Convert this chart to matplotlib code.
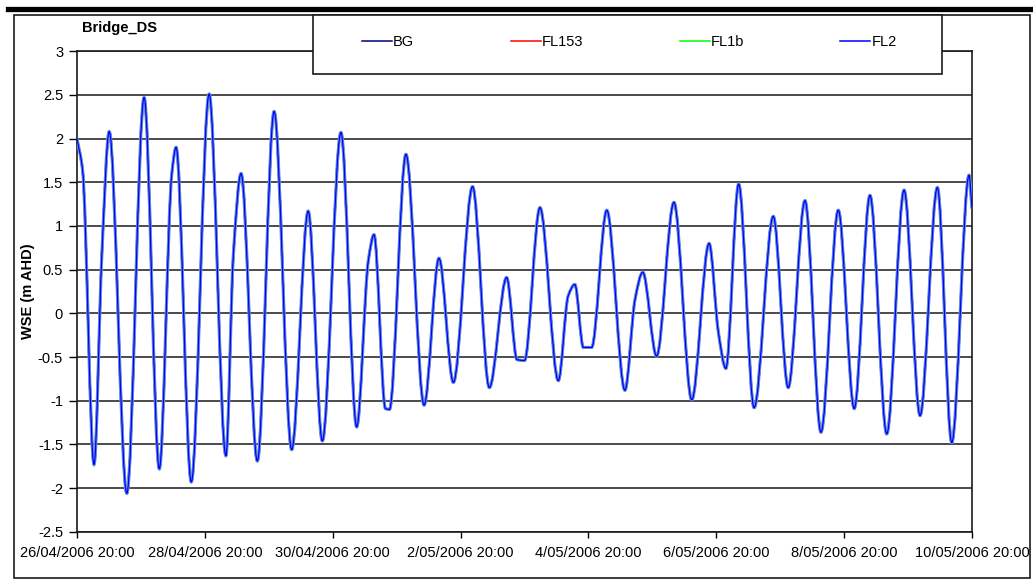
import numpy as np
import pandas as pd
import matplotlib as mpl
mpl.use('Agg')
import matplotlib.pyplot as plt
import matplotlib.dates as mdates
import matplotlib.patheffects as pe
from matplotlib.path import Path
from matplotlib.patches import PathPatch, Rectangle
from matplotlib.lines import Line2D
from matplotlib.ticker import FuncFormatter, MultipleLocator

plt.rcParams['font.family'] = ['Liberation Sans', 'DejaVu Sans']
plt.rcParams['axes.unicode_minus'] = False

# water surface elevation at Bridge_DS, turning points of the tide (hours after start, m AHD)
start = pd.Timestamp('2006-04-26 20:00')
hours = [0.0, 2.1, 6.4, 9.3, 12.1, 18.7, 25.2, 30.9, 35.6, 37.2,
         42.9, 49.6, 55.9, 58.7, 61.6, 67.7, 74.0, 80.6, 86.8, 92.1,
         99.1, 105.0, 109.4, 111.5, 115.8, 117.3, 123.5, 130.3, 135.9, 141.3,
         148.5, 154.8, 161.3, 165.2, 168.0, 173.8, 180.7, 184.4, 186.9, 190.1,
         193.2, 198.9, 205.7, 209.5, 212.4, 217.6, 224.1, 230.8, 237.3, 240.8,
         243.6, 248.4, 254.2, 261.4, 267.0, 273.3, 279.3, 285.8, 291.8, 297.7,
         304.0, 310.5, 316.5, 323.0, 328.4, 334.9, 336.0]
bg = [2.00, 1.64, -1.73, 0.65, 2.08, -2.06, 2.47, -1.78, 1.60, 1.90,
      -1.93, 2.51, -1.63, 0.67, 1.60, -1.69, 2.31, -1.56, 1.17, -1.46,
      2.07, -1.30, 0.61, 0.90, -1.09, -1.10, 1.82, -1.05, 0.63, -0.79,
      1.45, -0.85, 0.41, -0.53, -0.54, 1.21, -0.77, 0.20, 0.33, -0.39,
      -0.39, 1.18, -0.88, 0.16, 0.47, -0.49, 1.27, -0.99, 0.80, -0.22,
      -0.63, 1.48, -1.08, 1.11, -0.85, 1.29, -1.36, 1.18, -1.09, 1.35,
      -1.38, 1.41, -1.17, 1.44, -1.48, 1.58, 1.20]
fl153 = list(bg)
fl1b = list(bg)
fl2 = list(bg)

series_names = ['BG', 'FL153', 'FL1b', 'FL2']
series_colors = ['#000080', '#ff0000', '#00ff00', '#0000ff']
series_values = [bg, fl153, fl1b, fl2]

times = start + pd.to_timedelta(hours, unit='h')
xnum = mdates.date2num(times.to_pydatetime())

FS = 10.5


def smooth_path(x, y):
    # monotone cubic (Fritsch-Carlson) slopes, drawn as bezier segments
    x = np.asarray(x, float)
    y = np.asarray(y, float)
    h = np.diff(x)
    d = np.diff(y) / h
    m = np.zeros_like(y)
    m[0] = d[0]
    m[-1] = d[-1]
    for k in range(1, len(y) - 1):
        if d[k - 1] * d[k] > 0:
            w1 = 2 * h[k] + h[k - 1]
            w2 = h[k] + 2 * h[k - 1]
            m[k] = (w1 + w2) / (w1 / d[k - 1] + w2 / d[k])
    verts = [(x[0], y[0])]
    codes = [Path.MOVETO]
    for k in range(len(h)):
        verts += [(x[k] + h[k] / 3, y[k] + m[k] * h[k] / 3),
                  (x[k + 1] - h[k] / 3, y[k + 1] - m[k + 1] * h[k] / 3),
                  (x[k + 1], y[k + 1])]
        codes += [Path.CURVE4] * 3
    return Path(verts, codes)


fig = plt.figure(figsize=(10.33, 5.85), dpi=100)
W, H = 1033.0, 585.0

ax = fig.add_axes([77 / W, 1 - 531.7 / H, 895 / W, 480.4 / H])

for name, col, vals in zip(series_names, series_colors, series_values):
    patch = PathPatch(smooth_path(xnum, vals), facecolor='none', edgecolor=col,
                      lw=1.6, transform=ax.transData, zorder=3)
    if name == 'FL2':
        patch.set_linewidth(0.9)
        patch.set_path_effects([pe.Stroke(linewidth=2.3, foreground='#6b93da'), pe.Normal()])
    ax.add_patch(patch)

x0 = mdates.date2num(start.to_pydatetime())
ax.set_xlim(x0, x0 + 14)
ax.set_ylim(-2.5, 3)

ax.yaxis.set_major_locator(MultipleLocator(0.5))
ax.yaxis.set_major_formatter(FuncFormatter(lambda v, p: '%g' % v))
ax.set_xticks([x0 + 2 * i for i in range(8)])


def date_label(v, p):
    d = mdates.num2date(v)
    return '%d/%02d/%d %s' % (d.day, d.month, d.year, d.strftime('%H:%M'))


ax.xaxis.set_major_formatter(FuncFormatter(date_label))

ax.grid(axis='y', color='#1a1a1a', lw=1.1)
ax.set_axisbelow(True)
for s in ax.spines.values():
    s.set_color('#1a1a1a')
    s.set_linewidth(1.2)

ax.tick_params(axis='y', direction='out', length=6, width=1, pad=4, labelsize=FS)
ax.tick_params(axis='x', direction='out', length=4.5, width=1, pad=6, labelsize=FS)

ax.set_ylabel('WSE (m AHD)', fontweight='bold', fontsize=FS)
ax.yaxis.set_label_coords(-0.047, 0.5)

fig.text(82 / W, 1 - 28 / H, 'Bridge_DS', fontweight='bold', fontsize=FS,
         ha='left', va='center')

# outer frame and heavy rule at the top
fig.patches.append(Rectangle((14 / W, 1 - 578 / H), 1016 / W, 563 / H, transform=fig.transFigure,
                             facecolor='none', edgecolor='#1a1a1a', lw=1.2, zorder=4))
fig.lines.append(Line2D([8 / W, 1], [1 - 8.5 / H, 1 - 8.5 / H], transform=fig.transFigure,
                        color='black', lw=3.8, zorder=4))

# legend box
fig.patches.append(Rectangle((313 / W, 1 - 74 / H), 629 / W, 59 / H, transform=fig.transFigure,
                             facecolor='white', edgecolor='#1a1a1a', lw=1.2, zorder=5))
handles = [Line2D([], [], color=c, lw=1.1) for c in series_colors]
leg = fig.legend(handles, series_names, loc='center left', bbox_to_anchor=(362 / W, 1 - 42 / H),
                 ncol=4, frameon=False, fontsize=FS, handlelength=2.06, handletextpad=0.08,
                 columnspacing=6.6, borderpad=0, borderaxespad=0)
leg.set_zorder(6)

fig.savefig('out.png', dpi=100)
